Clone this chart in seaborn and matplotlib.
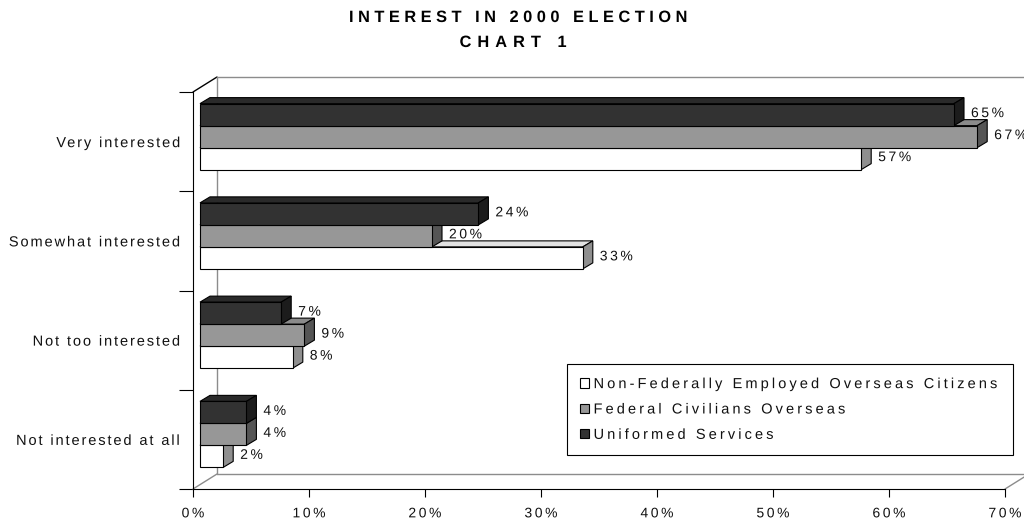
import numpy as np
import matplotlib
matplotlib.use("Agg")
import matplotlib.pyplot as plt
import matplotlib.transforms as mtransforms
from matplotlib.patches import Polygon, Patch
from matplotlib.lines import Line2D
from matplotlib.path import Path
from matplotlib.patheffects import AbstractPathEffect
from matplotlib.font_manager import findfont
from matplotlib.ft2font import FT2Font
import pandas as pd
import seaborn as sns

# ---- data -------------------------------------------------------------
categories = ["Very interested", "Somewhat interested",
              "Not too interested", "Not interested at all"]
series_names = ["Non-Federally Employed Overseas Citizens",
                "Federal Civilians Overseas",
                "Uniformed Services"]
non_federal = [57, 33, 8, 2]
federal_civilians = [67, 20, 9, 4]
uniformed = [65, 24, 7, 4]
x_ticks = [0, 10, 20, 30, 40, 50, 60, 70]
x_tick_labels = ["0%", "10%", "20%", "30%", "40%", "50%", "60%", "70%"]
title_lines = ["INTEREST IN 2000 ELECTION", "CHART 1"]

# ---- styling ----------------------------------------------------------
front_colors = {series_names[0]: "#ffffff", series_names[1]: "#979797",
                series_names[2]: "#323232"}
top_colors = {series_names[0]: "#e2e2e2", series_names[1]: "#8a8a8a",
              series_names[2]: "#2a2a2a"}
side_colors = {series_names[0]: "#8f8f8f", series_names[1]: "#555555",
               series_names[2]: "#1c1c1c"}

try:
    from matplotlib.ft2font import Kerning, LoadFlags
    KERN_DEFAULT, NO_HINTING = Kerning.DEFAULT, LoadFlags.NO_HINTING
except ImportError:  # older matplotlib
    KERN_DEFAULT, NO_HINTING = 0, 2


class Tracking(AbstractPathEffect):
    """Draw a text with extra spacing (in pixels) between its characters."""

    def __init__(self, text, prop, spacing_px, anchor=0.0):
        super().__init__()
        self.spacing_px = spacing_px
        self.anchor = anchor
        font = FT2Font(findfont(prop))
        font.set_size(100, 72)
        xs, x, prev = [], 0.0, None
        for ch in text:
            idx = font.get_char_index(ord(ch))
            if prev is not None:
                x += font.get_kerning(prev, idx, KERN_DEFAULT) / 64
            xs.append(x)
            glyph = font.load_char(ord(ch), flags=NO_HINTING)
            x += glyph.linearHoriAdvance / 65536
            prev = idx
        self.bounds = np.array(xs[1:])
        self.n = len(text)

    def draw_path(self, renderer, gc, tpath, affine, rgbFace=None):
        scale = abs(affine.get_matrix()[0, 0]) or 1.0
        t = self.spacing_px / scale
        verts = tpath.vertices.copy()
        codes = tpath.codes
        if codes is None or len(verts) == 0:
            renderer.draw_path(gc, tpath, affine, rgbFace)
            return
        starts = list(np.nonzero(codes == Path.MOVETO)[0]) + [len(codes)]
        for a, b in zip(starts[:-1], starts[1:]):
            cx = 0.5 * (verts[a:b, 0].min() + verts[a:b, 0].max())
            i = np.searchsorted(self.bounds, cx, side="right")
            verts[a:b, 0] += i * t
        verts[:, 0] -= self.anchor * (self.n - 1) * t
        renderer.draw_path(gc, Path(verts, codes), affine, rgbFace)


def track(text_obj, spacing_px, anchor):
    text_obj.set_path_effects([Tracking(text_obj.get_text(),
                                        text_obj.get_fontproperties(),
                                        spacing_px, anchor)])


df = pd.DataFrame({
    "category": categories * 3,
    "series": [s for s in series_names for _ in categories],
    "value": non_federal + federal_civilians + uniformed,
})

sns.set_theme(style="white")
plt.rcParams["font.family"] = ["Liberation Sans", "DejaVu Sans"]

W, H = 1024, 523
DPI = 100
fig = plt.figure(figsize=(W / DPI, H / DPI), dpi=DPI)
fig.patch.set_facecolor("white")


def px_rect(left, top, right, bottom):
    return [left / W, 1 - bottom / H, (right - left) / W, (bottom - top) / H]


def fig_pt(x, y):
    return x / W, 1 - y / H


# front plane of the 3-D frame
FL, FT, FR, FB = 193, 92, 1005, 489
ax = fig.add_axes(px_rect(FL, FT, FR, FB))
ax.patch.set_alpha(0)

hue_order = series_names[::-1]          # Uniformed Services on the top row
sns.barplot(data=df, y="category", x="value", hue="series",
            hue_order=hue_order, order=categories, orient="h",
            palette=[front_colors[s] for s in hue_order], saturation=1,
            width=0.665, edgecolor="black", linewidth=0.8,
            legend=False, ax=ax)

ax.set_xlim(0, 70)
ax.set_ylim(3.5, -0.5)
ax.set_xlabel("")
ax.set_ylabel("")

# bars sit slightly behind the front plane
bar_shift = mtransforms.ScaledTranslation(7 / DPI, 5 / DPI, fig.dpi_scale_trans)
bar_trans = ax.transData + bar_shift
label_shift = mtransforms.ScaledTranslation(24 / DPI, 6.5 / DPI, fig.dpi_scale_trans)
label_trans = ax.transData + label_shift

p0 = ax.transData.transform((0, 0))
p1 = ax.transData.transform((1, 1))
ux, uy = p1[0] - p0[0], p1[1] - p0[1]
depth_dx = 10 / ux
depth_dy = 6 / uy

zbase = {series_names[0]: 3, series_names[1]: 4, series_names[2]: 5}
for name, container in zip(hue_order, ax.containers):
    z = zbase[name]
    for bar in container.patches:
        bar.set_transform(bar_trans)
        bar.set_zorder(z + 0.2)
        x0 = bar.get_x()
        x1 = x0 + bar.get_width()
        yt = bar.get_y()
        yb = yt + bar.get_height()
        top = Polygon([(x0, yt), (x1, yt), (x1 + depth_dx, yt + depth_dy),
                       (x0 + depth_dx, yt + depth_dy)], closed=True,
                      facecolor=top_colors[name], edgecolor="black",
                      linewidth=0.8, transform=bar_trans, zorder=z,
                      clip_on=False)
        side = Polygon([(x1, yt), (x1 + depth_dx, yt + depth_dy),
                        (x1 + depth_dx, yb + depth_dy), (x1, yb)], closed=True,
                       facecolor=side_colors[name], edgecolor="black",
                       linewidth=0.8, transform=bar_trans, zorder=z,
                       clip_on=False)
        ax.add_patch(top)
        ax.add_patch(side)
        lbl = ax.text(x1, (yt + yb) / 2, f"{int(round(bar.get_width()))}%",
                      transform=label_trans, ha="left", va="center",
                      fontsize=10, color="#111111", zorder=10, clip_on=False)
        track(lbl, 2.6, 0.0)

# ---- axes: front frame ------------------------------------------------
for s in ["top", "right"]:
    ax.spines[s].set_visible(False)
for s in ["left", "bottom"]:
    ax.spines[s].set_color("black")
    ax.spines[s].set_linewidth(0.8)

ax.set_xticks(x_ticks)
xlabels = ax.set_xticklabels(x_tick_labels, fontsize=10, color="#111111")
ax.tick_params(axis="x", direction="out", length=6, width=0.8,
               color="black", pad=6.5, bottom=True)
ax.set_yticks([-0.5, 0.5, 1.5, 2.5, 3.5])
ax.set_yticklabels([])
ax.set_yticks([0, 1, 2, 3], minor=True)
ylabels = ax.set_yticklabels(categories, minor=True, fontsize=10.5,
                             color="#111111")
ax.tick_params(axis="y", which="major", direction="out", length=10,
               width=0.8, color="black", left=True)
ax.tick_params(axis="y", which="minor", length=0, pad=8.6, left=True)
ax.grid(False)
for t in xlabels:
    track(t, 2.6, 0.5)
for t in ylabels:
    track(t, 1.9, 1.0)

# back wall and floor edges of the 3-D box
DX, DY = 24, -15
gray = "#8c8c8c"
frame_lines = [
    ((FL, FT), (FL + DX, FT + DY), "black"),
    ((FL, FB), (FL + DX, FB + DY), gray),
    ((FR, FB), (FR + DX, FB + DY), gray),
    ((FL + DX, FT + DY), (FL + DX, FB + DY), gray),
    ((FL + DX, FT + DY), (FR + DX, FT + DY), gray),
    ((FL + DX, FB + DY), (FR + DX, FB + DY), gray),
]
for (xa, ya), (xb, yb), col in frame_lines:
    (fxa, fya), (fxb, fyb) = fig_pt(xa, ya), fig_pt(xb, yb)
    ax.add_line(Line2D([fxa, fxb], [fya, fyb], transform=fig.transFigure,
                       color=col, linewidth=1.0, clip_on=False, zorder=1))

# ---- legend -----------------------------------------------------------
handles = [Patch(facecolor=front_colors[s], edgecolor="black",
                 linewidth=0.8, label=s) for s in series_names]
lx, ly = fig_pt(567, 364)
leg = fig.legend(handles=handles, loc="upper left",
                 bbox_to_anchor=(lx, ly - 92 / H, (1013 - 567) / W, 92 / H),
                 mode="expand", fontsize=10.5, frameon=True, fancybox=False,
                 shadow=False, framealpha=1, edgecolor="black",
                 handlelength=0.62, handleheight=0.62, handletextpad=0.3,
                 labelspacing=0.78, borderpad=0.9, borderaxespad=0)
leg.get_frame().set_linewidth(0.8)
for t in leg.get_texts():
    t.set_color("#111111")
    track(t, 3.1, 0.0)

# ---- title ------------------------------------------------------------
title_centers = [(518, 17.5), (513, 42.5)]
title_tracking = [4.5, 6.0]
for line, (cx, cy), trk in zip(title_lines, title_centers, title_tracking):
    tx, ty = fig_pt(cx, cy)
    ttl = fig.text(tx, ty, line, ha="center", va="center", fontsize=11.8,
                   fontweight="bold", color="black")
    track(ttl, trk, 0.5)

fig.savefig("out.png", dpi=DPI)
